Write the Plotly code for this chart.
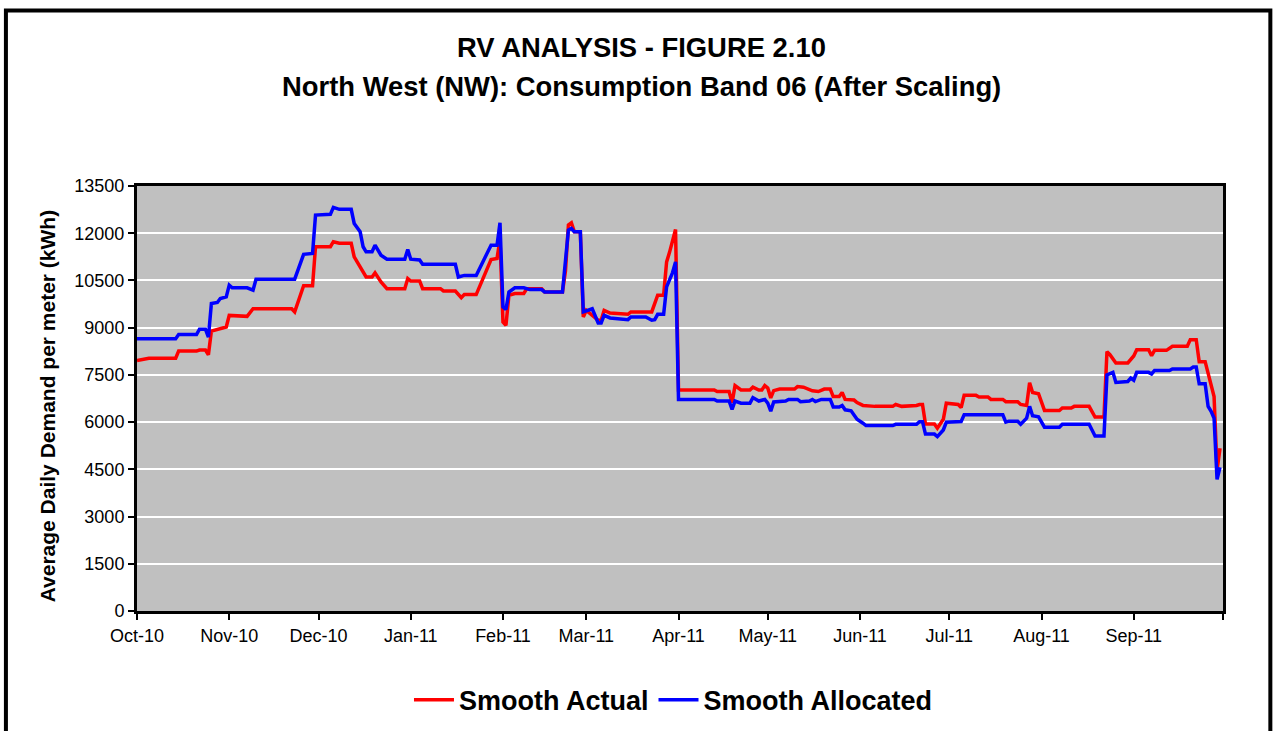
import plotly.graph_objects as go

# --- DADOS ---
actual_dates = [
    "2010-10-01", "2010-10-05", "2010-10-14", "2010-10-15", "2010-10-21", "2010-10-22", "2010-10-24",
    "2010-10-25", "2010-10-26", "2010-10-28", "2010-10-31", "2010-11-01", "2010-11-07", "2010-11-09",
    "2010-11-22", "2010-11-23", "2010-11-25", "2010-11-26", "2010-11-29", "2010-11-30", "2010-12-05",
    "2010-12-06", "2010-12-08", "2010-12-12", "2010-12-13", "2010-12-14", "2010-12-16", "2010-12-17",
    "2010-12-19", "2010-12-20", "2010-12-22", "2010-12-24", "2010-12-30", "2010-12-31", "2011-01-01",
    "2011-01-04", "2011-01-05", "2011-01-11", "2011-01-12", "2011-01-16", "2011-01-18", "2011-01-19",
    "2011-01-23", "2011-01-25", "2011-01-27", "2011-01-28", "2011-01-30", "2011-01-31", "2011-02-01",
    "2011-02-02", "2011-02-03", "2011-02-05", "2011-02-08", "2011-02-09", "2011-02-14", "2011-02-15",
    "2011-02-21", "2011-02-22", "2011-02-23", "2011-02-24", "2011-02-25", "2011-02-27", "2011-02-28",
    "2011-03-01", "2011-03-05", "2011-03-06", "2011-03-07", "2011-03-09", "2011-03-15", "2011-03-16",
    "2011-03-23", "2011-03-25", "2011-03-27", "2011-03-28", "2011-03-29", "2011-03-30", "2011-03-31",
    "2011-04-01", "2011-04-13", "2011-04-14", "2011-04-18", "2011-04-19", "2011-04-20", "2011-04-22",
    "2011-04-25", "2011-04-26", "2011-04-28", "2011-04-29", "2011-04-30", "2011-05-01", "2011-05-02",
    "2011-05-03", "2011-05-05", "2011-05-10", "2011-05-11", "2011-05-13", "2011-05-14", "2011-05-16",
    "2011-05-18", "2011-05-19", "2011-05-20", "2011-05-22", "2011-05-23", "2011-05-25", "2011-05-26",
    "2011-05-27", "2011-05-30", "2011-05-31", "2011-06-02", "2011-06-06", "2011-06-12", "2011-06-13",
    "2011-06-15", "2011-06-20", "2011-06-21", "2011-06-22", "2011-06-23", "2011-06-26", "2011-06-27",
    "2011-06-29", "2011-06-30", "2011-07-04", "2011-07-05", "2011-07-06", "2011-07-10", "2011-07-11",
    "2011-07-14", "2011-07-15", "2011-07-19", "2011-07-20", "2011-07-24", "2011-07-25", "2011-07-27",
    "2011-07-28", "2011-07-29", "2011-07-31", "2011-08-02", "2011-08-07", "2011-08-08", "2011-08-11",
    "2011-08-12", "2011-08-17", "2011-08-19", "2011-08-22", "2011-08-23", "2011-08-24", "2011-08-26",
    "2011-08-30", "2011-08-31", "2011-09-01", "2011-09-02", "2011-09-06", "2011-09-07", "2011-09-08",
    "2011-09-12", "2011-09-14", "2011-09-19", "2011-09-20", "2011-09-22", "2011-09-23", "2011-09-25",
    "2011-09-27", "2011-09-28", "2011-09-29", "2011-09-30",
]
actual_values = [
    7960, 8030, 8030, 8255, 8255, 8290, 8290,
    8140, 8890, 8950, 9020, 9390, 9360, 9600,
    9600, 9500, 10080, 10330, 10330, 11570, 11570,
    11730, 11680, 11680, 11250, 11090, 10720, 10610,
    10610, 10740, 10455, 10240, 10240, 10560, 10480,
    10485, 10240, 10240, 10165, 10165, 9955, 10050,
    10050, 10505, 10910, 11165, 11200, 11800, 9180,
    9075, 10030, 10085, 10085, 10240, 10240, 10135,
    10135, 10800, 12260, 12330, 12045, 12045, 9340,
    9550, 9235, 9235, 9550, 9465, 9425, 9500,
    9500, 10030, 10030, 11090, 11400, 11750, 12120,
    7020, 7020, 6970, 6970, 6620, 7160, 7020,
    7020, 7110, 7020, 7020, 7160, 7080, 6770,
    7000, 7050, 7050, 7130, 7110, 7080, 6995,
    6970, 7000, 7050, 7050, 6810, 6810, 6940,
    6720, 6700, 6620, 6530, 6500, 6500, 6560,
    6500, 6530, 6560, 6560, 5940, 5940, 5805,
    6090, 6600, 6560, 6460, 6850, 6850, 6800,
    6800, 6720, 6720, 6650, 6650, 6560, 6530,
    7250, 6940, 6900, 6370, 6370, 6450, 6450,
    6500, 6500, 6160, 6160, 8240, 8140, 7880,
    7880, 7980, 8100, 8300, 8300, 8110, 8280,
    8280, 8410, 8410, 8620, 8620, 7920, 7920,
    7130, 6810, 4480, 5170,
]

allocated_dates = [
    "2010-10-01", "2010-10-14", "2010-10-15", "2010-10-21", "2010-10-22", "2010-10-24", "2010-10-25",
    "2010-10-26", "2010-10-28", "2010-10-29", "2010-10-31", "2010-11-01", "2010-11-02", "2010-11-07",
    "2010-11-09", "2010-11-10", "2010-11-23", "2010-11-24", "2010-11-25", "2010-11-26", "2010-11-29",
    "2010-11-30", "2010-12-05", "2010-12-06", "2010-12-08", "2010-12-12", "2010-12-13", "2010-12-15",
    "2010-12-16", "2010-12-17", "2010-12-19", "2010-12-20", "2010-12-22", "2010-12-24", "2010-12-30",
    "2010-12-31", "2011-01-01", "2011-01-04", "2011-01-05", "2011-01-16", "2011-01-17", "2011-01-19",
    "2011-01-23", "2011-01-25", "2011-01-27", "2011-01-28", "2011-01-30", "2011-01-31", "2011-02-01",
    "2011-02-02", "2011-02-03", "2011-02-05", "2011-02-08", "2011-02-10", "2011-02-14", "2011-02-15",
    "2011-02-21", "2011-02-22", "2011-02-23", "2011-02-24", "2011-02-25", "2011-02-27", "2011-02-28",
    "2011-03-03", "2011-03-05", "2011-03-06", "2011-03-07", "2011-03-09", "2011-03-15", "2011-03-16",
    "2011-03-21", "2011-03-23", "2011-03-24", "2011-03-25", "2011-03-27", "2011-03-28", "2011-03-29",
    "2011-03-30", "2011-03-31", "2011-04-01", "2011-04-13", "2011-04-14", "2011-04-18", "2011-04-19",
    "2011-04-20", "2011-04-22", "2011-04-25", "2011-04-26", "2011-04-28", "2011-04-30", "2011-05-01",
    "2011-05-02", "2011-05-03", "2011-05-07", "2011-05-08", "2011-05-11", "2011-05-12", "2011-05-15",
    "2011-05-16", "2011-05-17", "2011-05-19", "2011-05-22", "2011-05-23", "2011-05-25", "2011-05-26",
    "2011-05-27", "2011-05-29", "2011-05-31", "2011-06-02", "2011-06-03", "2011-06-12", "2011-06-13",
    "2011-06-20", "2011-06-21", "2011-06-22", "2011-06-23", "2011-06-26", "2011-06-27", "2011-06-29",
    "2011-06-30", "2011-07-05", "2011-07-06", "2011-07-19", "2011-07-20", "2011-07-21", "2011-07-24",
    "2011-07-25", "2011-07-27", "2011-07-28", "2011-07-29", "2011-07-31", "2011-08-02", "2011-08-07",
    "2011-08-08", "2011-08-17", "2011-08-19", "2011-08-22", "2011-08-23", "2011-08-25", "2011-08-26",
    "2011-08-30", "2011-08-31", "2011-09-01", "2011-09-02", "2011-09-06", "2011-09-07", "2011-09-08",
    "2011-09-13", "2011-09-14", "2011-09-20", "2011-09-21", "2011-09-22", "2011-09-23", "2011-09-25",
    "2011-09-26", "2011-09-27", "2011-09-28", "2011-09-29", "2011-09-30",
]
allocated_values = [
    8650, 8650, 8780, 8780, 8950, 8950, 8700,
    9765, 9800, 9925, 9980, 10350, 10265, 10265,
    10190, 10540, 10540, 10825, 11090, 11330, 11360,
    12575, 12600, 12820, 12760, 12760, 12310, 12045,
    11570, 11410, 11410, 11620, 11300, 11175, 11175,
    11485, 11175, 11150, 11015, 11015, 10610, 10660,
    10660, 11040, 11410, 11620, 11620, 12330, 9660,
    9575, 10135, 10265, 10265, 10210, 10210, 10135,
    10135, 11195, 12100, 12150, 12045, 12045, 9500,
    9600, 9150, 9150, 9390, 9310, 9255, 9340,
    9340, 9235, 9255, 9425, 9425, 10295, 10500,
    10750, 11090, 6720, 6720, 6670, 6670, 6400,
    6670, 6600, 6600, 6780, 6670, 6720, 6600,
    6350, 6640, 6670, 6720, 6720, 6650, 6670,
    6720, 6650, 6720, 6720, 6480, 6480, 6530,
    6390, 6360, 6090, 5965, 5890, 5890, 5930,
    5930, 6015, 6015, 5620, 5620, 5540, 5750,
    5995, 6020, 6230, 6230, 6000, 6030, 6030,
    5935, 6125, 6500, 6200, 6170, 5840, 5840,
    5935, 5935, 5560, 5560, 7500, 7580, 7260,
    7290, 7400, 7330, 7580, 7580, 7530, 7640,
    7640, 7690, 7690, 7750, 7750, 7220, 7220,
    6500, 6340, 6125, 4180, 4560,
]

month_ticks = [
    "2010-10-01", "2010-11-01", "2010-12-01", "2011-01-01", "2011-02-01", "2011-03-01", "2011-04-01",
    "2011-05-01", "2011-06-01", "2011-07-01", "2011-08-01", "2011-09-01", "2011-10-01",
]
month_labels = [
    "Oct-10", "Nov-10", "Dec-10", "Jan-11", "Feb-11", "Mar-11", "Apr-11",
    "May-11", "Jun-11", "Jul-11", "Aug-11", "Sep-11", "",
]

FONT = "Liberation Sans, Arial, sans-serif"

fig = go.Figure()

# vermelho primeiro, azul por cima (como no Excel)
fig.add_trace(go.Scatter(
    x=actual_dates, y=actual_values, mode="lines", name="Smooth Actual",
    line=dict(color="#FF0000", width=3.5)
))
fig.add_trace(go.Scatter(
    x=allocated_dates, y=allocated_values, mode="lines", name="Smooth Allocated",
    line=dict(color="#0000FF", width=3.5)
))

fig.update_xaxes(
    type="date",
    range=["2010-10-01", "2011-10-01"],
    tickmode="array", tickvals=month_ticks, ticktext=month_labels,
    ticks="outside", ticklen=6, tickwidth=1.5, tickcolor="black",
    showgrid=False, zeroline=False,
    showline=True, linecolor="black", linewidth=3, mirror=True,
    tickfont=dict(family=FONT, size=18, color="black"),
)
fig.update_yaxes(
    range=[0, 13500], dtick=1500, tickformat="d",
    ticks="outside", ticklen=6, tickwidth=1.5, tickcolor="black",
    showgrid=True, gridcolor="white", gridwidth=1.5, zeroline=False,
    showline=True, linecolor="black", linewidth=3, mirror=True,
    tickfont=dict(family=FONT, size=18, color="black"),
)

# títulos como anotações para controlar a posição
fig.add_annotation(
    text="<b>RV ANALYSIS - FIGURE 2.10</b>", xref="paper", yref="paper",
    x=0.4648, y=1.327, showarrow=False, xanchor="center", yanchor="middle",
    font=dict(family=FONT, size=27.4, color="black")
)
fig.add_annotation(
    text="<b>North West (NW): Consumption Band 06 (After Scaling)</b>", xref="paper", yref="paper",
    x=0.4648, y=1.233, showarrow=False, xanchor="center", yanchor="middle",
    font=dict(family=FONT, size=27.4, color="black")
)
fig.add_annotation(
    text="<b>Average Daily Demand per meter (kWh)</b>", xref="paper", yref="paper",
    x=-0.0827, y=0.482, showarrow=False, textangle=-90, xanchor="center", yanchor="middle",
    font=dict(family=FONT, size=21, color="black")
)

# moldura externa do gráfico
fig.add_shape(
    type="rect", xref="paper", yref="paper",
    x0=-0.1207, x1=1.0436, y0=-0.35, y1=1.413,
    line=dict(color="black", width=4), fillcolor="rgba(0,0,0,0)", layer="above"
)

fig.update_layout(
    width=1277, height=731,
    # margens fixas: a legenda não pode empurrar a área do gráfico
    margin=dict(l=137, r=54, t=186, b=120, autoexpand=False),
    plot_bgcolor="#C0C0C0",
    paper_bgcolor="white",
    showlegend=True,
    legend=dict(
        orientation="h", x=0.494, y=-0.21, xanchor="center", yanchor="middle",
        font=dict(family=FONT, size=27, color="black", weight="bold"),
        bgcolor="rgba(0,0,0,0)", itemwidth=40
    ),
    hovermode="x unified",
)

# sem margem do body, para a figura ficar colada ao canto da janela
fig.write_html(
    "out.html",
    config={"displayModeBar": False},
    post_script="document.body.style.margin='0';",
)
